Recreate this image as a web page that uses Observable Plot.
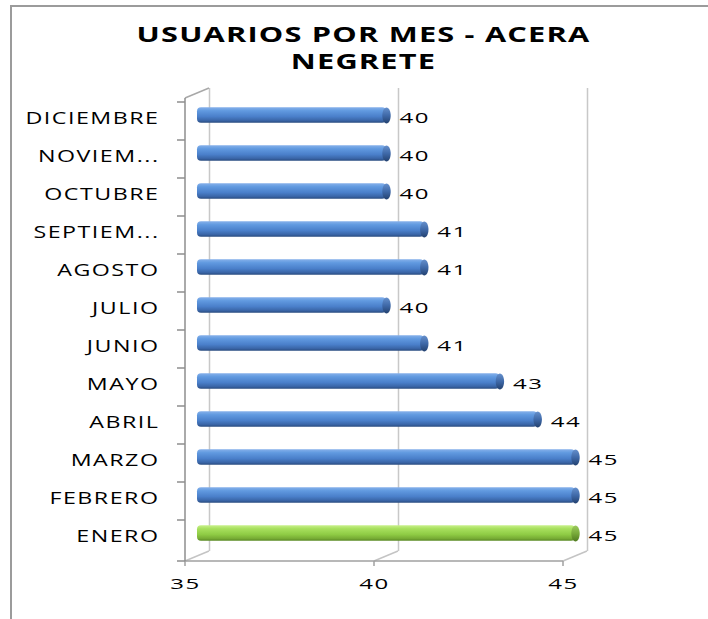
<!DOCTYPE html>
<html><head><meta charset="utf-8">
<script src="https://cdn.jsdelivr.net/npm/d3@7"></script>
<script src="https://cdn.jsdelivr.net/npm/@observablehq/plot@0.6"></script>
<style>
html,body{margin:0;padding:0;background:#fff;}
#wrap{position:relative;width:708px;height:619px;overflow:hidden;background:#fff;}
#wrap svg{position:absolute;left:0;top:0;}
#border{position:absolute;left:10px;top:5px;width:900px;height:900px;border:2px solid #9b9b9b;pointer-events:none;}
</style></head>
<body><div id="wrap"></div>
<script>
// ---- data ----
const title = "USUARIOS POR MES - ACERA\nNEGRETE";
const months = ["ENERO","FEBRERO","MARZO","ABRIL","MAYO","JUNIO","JULIO","AGOSTO","SEPTIEM...","OCTUBRE","NOVIEM...","DICIEMBRE"];
const users = [45,45,45,44,43,41,40,41,41,40,40,40];
const highlight = "ENERO";
const xTicks = [35,40,45];
const xDomain = [35,45];

const data = months.map((m,i) => ({month: m, value: users[i]}));
const yDomain = months.slice().reverse();

// 3D depth offsets
const DX = 24, DY = -10;

function defs() {
  const d = d3.create("svg:defs");
  const grad = (id, stops) => {
    const lg = d.append("linearGradient").attr("id", id)
      .attr("x1", 0).attr("y1", 0).attr("x2", 0).attr("y2", 1);
    stops.forEach(([o, c]) => lg.append("stop").attr("offset", o).attr("stop-color", c));
  };
  grad("gBlue", [[0,"#86b0ea"],[0.22,"#619ae0"],[0.6,"#4a7fca"],[0.85,"#3a66a8"],[1,"#2a4c80"]]);
  grad("gBlueCap", [[0,"#6690cc"],[0.5,"#3f69a8"],[1,"#23416f"]]);
  grad("gGreen", [[0,"#c8f08a"],[0.22,"#a8e05e"],[0.6,"#8ecb44"],[0.85,"#78ad35"],[1,"#5a8a24"]]);
  grad("gGreenCap", [[0,"#9cca5e"],[0.5,"#78aa3a"],[1,"#4f7a1f"]]);
  return d.node();
}

function frame3d(index, scales, values, dims) {
  const x = scales.x, y = scales.y;
  const top = dims.marginTop, bottom = dims.height - dims.marginBottom;
  const left = x(xDomain[0]), right = x(xDomain[1]);
  const g = d3.create("svg:g").attr("fill", "none");
  xTicks.forEach(t => g.append("line")
    .attr("x1", x(t)).attr("y1", bottom).attr("x2", x(t) + DX).attr("y2", bottom + DY)
    .attr("stroke", "#c4c4c4").attr("stroke-width", 1.5));
  g.append("line").attr("x1", left).attr("y1", top).attr("x2", left + DX).attr("y2", top + DY)
    .attr("stroke", "#a8a8a8").attr("stroke-width", 1.5);
  g.append("line").attr("x1", left).attr("x2", right).attr("y1", bottom).attr("y2", bottom)
    .attr("stroke", "#a0a0a0").attr("stroke-width", 1.5);
  xTicks.forEach(t => g.append("line")
    .attr("x1", x(t)).attr("x2", x(t)).attr("y1", bottom).attr("y2", bottom + 5)
    .attr("stroke", "#a0a0a0").attr("stroke-width", 1.5));
  g.append("line").attr("x1", left).attr("x2", left).attr("y1", top).attr("y2", bottom)
    .attr("stroke", "#8e8e8e").attr("stroke-width", 1.5);
  const bounds = yDomain.map(m => y(m)).concat([bottom]);
  bounds.forEach(b => g.append("line")
    .attr("x1", left - 8).attr("x2", left).attr("y1", b).attr("y2", b)
    .attr("stroke", "#8e8e8e").attr("stroke-width", 1.5));
  return g.node();
}

const ellipse = {
  draw(ctx) {
    const rx = 4.2, ry = 8, k = 0.5523;
    ctx.moveTo(rx, 0);
    ctx.bezierCurveTo(rx, ry * k, rx * k, ry, 0, ry);
    ctx.bezierCurveTo(-rx * k, ry, -rx, ry * k, -rx, 0);
    ctx.bezierCurveTo(-rx, -ry * k, -rx * k, -ry, 0, -ry);
    ctx.bezierCurveTo(rx * k, -ry, rx, -ry * k, rx, 0);
    ctx.closePath();
  }
};

const isHi = d => d.month === highlight;
const inset = 11.3;
const BDY = -6;

const chart = Plot.plot({
  width: 708, height: 619,
  marginLeft: 185, marginRight: 145, marginTop: 98, marginBottom: 58,
  style: {fontFamily: "'Open Sans', sans-serif", fontSize: "15px", color: "#000", background: "transparent", overflow: "visible"},
  x: {domain: xDomain},
  y: {domain: yDomain, padding: 0},
  marks: [
    defs,
    Plot.ruleX(xTicks, {dx: DX, dy: DY, stroke: "#c8c8c8", strokeWidth: 1.5}),
    frame3d,
    Plot.axisX({ticks: xTicks, tickSize: 0, tickPadding: 17, fontSize: 15, tickFormat: d => String(d), label: null}),
    Plot.axisY({tickSize: 0, tickPadding: 26, fontSize: 15.5, label: null, dy: -2.5}),
    Plot.barX(data.filter(d => !isHi(d)), {x1: () => xDomain[0], x2: "value", y: "month", fill: "url(#gBlue)", rx: 4, insetTop: inset, insetBottom: inset, dx: DX/2, dy: BDY}),
    Plot.barX(data.filter(isHi), {x1: () => xDomain[0], x2: "value", y: "month", fill: "url(#gGreen)", rx: 4, insetTop: inset, insetBottom: inset, dx: DX/2, dy: BDY}),
    Plot.dot(data.filter(d => !isHi(d)), {x: "value", y: "month", symbol: ellipse, fill: "url(#gBlueCap)", dx: DX/2, dy: BDY}),
    Plot.dot(data.filter(isHi), {x: "value", y: "month", symbol: ellipse, fill: "url(#gGreenCap)", dx: DX/2, dy: BDY}),
    Plot.text(data, {x: "value", y: "month", text: d => String(d.value), textAnchor: "start", dx: 25, dy: -3.5, fontSize: 15, fill: "#000"}),
    Plot.text([title], {frameAnchor: "top", text: d => d, fontSize: 20.5, fontWeight: "bold", lineAnchor: "middle", lineHeight: 1.32, dx: -11, dy: -52, fill: "#000"})
  ]
});

// horizontal stretch + spacing of texts (reference text is widened)
d3.select(chart).selectAll("text").each(function() {
  const t = this.textContent.trim();
  const bold = !!this.closest('[font-weight="bold"]');
  const digits = /^\d+$/.test(t);
  let sx, ls;
  if (bold) { sx = 1.5; ls = 0.8; }
  else if (digits) { sx = 1.6; ls = 1.0; }
  else { sx = 1.5; ls = 1.0; }
  this.style.letterSpacing = ls + "px";
  const tr = this.getAttribute("transform");
  if (tr) this.setAttribute("transform", tr + ` scale(${sx},1)`);
  else {
    const x = +this.getAttribute("x") || 0;
    this.setAttribute("transform", `translate(${x},0) scale(${sx},1) translate(${-x},0)`);
  }
});

const wrap = document.getElementById("wrap");
wrap.appendChild(chart);
const border = document.createElement("div");
border.id = "border";
wrap.appendChild(border);
</script>
</body></html>
